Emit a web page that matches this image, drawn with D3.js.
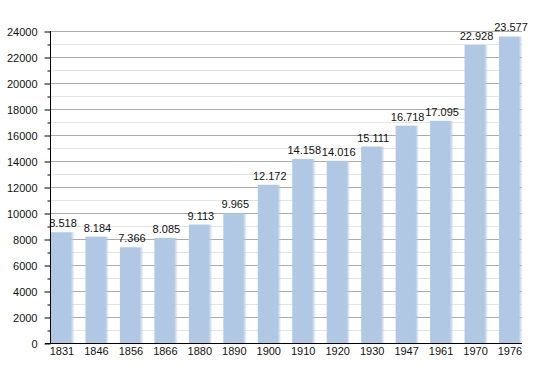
<!DOCTYPE html>
<html><head><meta charset="utf-8">
<script src="https://cdn.jsdelivr.net/npm/d3@7"></script>
<style>body{margin:0;background:#fff}svg{display:block}</style>
</head><body>
<svg id="c" width="550" height="373"></svg>
<script>
const years = ["1831","1846","1856","1866","1880","1890","1900","1910","1920","1930","1947","1961","1970","1976"];
const population = [8518,8184,7366,8085,9113,9965,12172,14158,14016,15111,16718,17095,22928,23577];
const valueLabels = ["8.518","8.184","7.366","8.085","9.113","9.965","12.172","14.158","14.016","15.111","16.718","17.095","22.928","23.577"];
const majorTicks = [0,2000,4000,6000,8000,10000,12000,14000,16000,18000,20000,22000,24000];
const minorTicks = [1000,3000,5000,7000,9000,11000,13000,15000,17000,19000,21000,23000];

const svg = d3.select("#c");
const font = "'Liberation Sans', Arial, Helvetica, sans-serif";
const x = d3.scaleBand().domain(years).range([51,519]).paddingInner(0.42).paddingOuter(0).align(0);
const y = d3.scaleLinear().domain([0,24000]).range([343,31]);

const defs = svg.append("defs");
const g = defs.append("linearGradient").attr("id","bar").attr("x1","0").attr("x2","1").attr("y1","0").attr("y2","0");
g.append("stop").attr("offset","0").attr("stop-color","#b0c8e4");
g.append("stop").attr("offset","0.86").attr("stop-color","#b0c8e4");
g.append("stop").attr("offset","1").attr("stop-color","#b0c8e4").attr("stop-opacity","0.2");

// grid
svg.append("g").selectAll("line").data(minorTicks).join("line")
  .attr("x1",50).attr("x2",522).attr("y1",d=>y(d)+0.5).attr("y2",d=>y(d)+0.5)
  .attr("stroke","#e3e3e3").attr("stroke-width",1);
svg.append("g").selectAll("line").data(majorTicks.slice(1)).join("line")
  .attr("x1",50).attr("x2",522).attr("y1",d=>y(d)+0.5).attr("y2",d=>y(d)+0.5)
  .attr("stroke","#ababab").attr("stroke-width",1);

// bars
svg.append("g").selectAll("rect").data(population).join("rect")
  .attr("x",(d,i)=>x(years[i]))
  .attr("y",d=>y(d))
  .attr("width",x.bandwidth()+3)
  .attr("height",d=>y(0)-y(d))
  .attr("fill","url(#bar)");

// value labels
svg.append("g").selectAll("text").data(population).join("text")
  .attr("x",(d,i)=>x(years[i])+x.bandwidth()/2+2)
  .attr("y",d=>y(d)-5)
  .attr("text-anchor","middle")
  .attr("font-family",font).attr("font-size",11).attr("fill","#111")
  .text((d,i)=>valueLabels[i]);

// y axis
const yAxis = d3.axisLeft(y).tickValues(majorTicks).tickSize(6).tickPadding(7).tickFormat(d3.format("d"));
const ya = svg.append("g").attr("transform","translate(50.5,0.5)").call(yAxis);
ya.select(".domain").remove();
ya.selectAll("text").attr("font-family",font).attr("font-size",11).attr("fill","#111");
ya.selectAll("line").attr("stroke","#000");
const yMinor = d3.axisLeft(y).tickValues(minorTicks).tickSize(3).tickFormat("");
const ym = svg.append("g").attr("transform","translate(50.5,0.5)").call(yMinor);
ym.select(".domain").remove();
ym.selectAll("line").attr("stroke","#000");
svg.append("line").attr("x1",50.5).attr("x2",50.5).attr("y1",y(24000)).attr("y2",y(0)+0.5).attr("stroke","#000");

// x axis
svg.append("line").attr("x1",45).attr("x2",522).attr("y1",y(0)+0.5).attr("y2",y(0)+0.5).attr("stroke","#000");
svg.append("g").selectAll("text").data(years).join("text")
  .attr("x",d=>x(d)+x.bandwidth()/2+1)
  .attr("y",355)
  .attr("text-anchor","middle")
  .attr("font-family",font).attr("font-size",11).attr("fill","#111")
  .text(d=>d);
</script>
</body></html>
